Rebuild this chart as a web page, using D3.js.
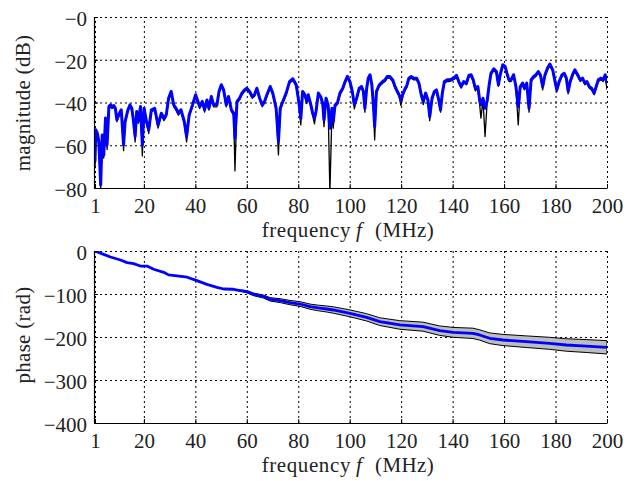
<!DOCTYPE html>
<html>
<head>
<meta charset="utf-8">
<script src="https://cdn.jsdelivr.net/npm/d3@7"></script>
<style>
  body { margin: 0; background: #fff; }
  svg text { font-family: 'Liberation Serif', 'Times New Roman', serif; font-size: 21px; fill: #222; }
</style>
</head>
<body>
<div class="chart"></div>
<script>
// frequency axis (MHz)
const xTicks = [1, 20, 40, 60, 80, 100, 120, 140, 160, 180, 200];

// magnitude panel
const magTicks = [0, -20, -40, -60, -80];
const magTickLabels = ['−0', '−20', '−40', '−60', '−80'];

const magFreq = [
  1, 1.3, 1.9, 2.5, 3.2, 3.8, 4.4, 5.1, 5.7, 6.4, 7.0, 7.6, 8.3, 8.9, 9.5, 10.2, 11.2, 12.1, 12.7, 13.8,
  14.6, 15.3, 15.9, 16.6, 17.2, 17.8, 18.7, 19.4, 20.1, 21.0, 21.9, 22.9, 24.2, 25.5, 26.8, 27.8, 28.7, 29.6,
  30.6, 31.6, 32.5, 33.4, 34.4, 35.7, 36.6, 37.6, 38.9, 40.1,
  41.7, 42.7, 43.6, 44.5, 45.3, 46.2, 47.1, 48.4, 49.2, 50.1, 51.0, 52.0, 52.9, 54.0, 54.9, 55.4, 56.2, 57.2,
  58.1, 59.1, 60.0, 61.1, 62.1, 63.0, 63.9, 65.0, 66.0, 66.9, 67.8, 69.1, 70.1, 71.4, 72.3, 73.0, 74.0, 75.3,
  76.6, 77.9, 79.2, 80.2, 81.0,
  81.7, 82.6, 83.3, 83.9, 84.9, 85.6, 86.3, 86.9, 87.8, 88.7, 89.5, 90.0, 90.8, 91.6, 92.3, 93.1, 93.6, 94.3,
  95.2, 96.2, 97.3, 98.2, 99.1, 100.1, 101.0, 101.8, 102.7, 103.7, 104.6, 105.3, 105.9, 106.6, 107.2, 107.9,
  108.6, 109.2, 109.7, 110.4, 111.5, 112.8, 113.7, 114.6, 115.6, 116.7, 117.6, 118.5, 119.2, 119.9, 120.8, 121.6,
  122.1, 123.0, 123.9, 124.9, 126.0, 126.9, 127.8, 128.6, 129.5, 130.4, 131.1, 132.0, 132.9, 133.7, 134.6, 135.3,
  136.0, 136.8, 137.9, 138.8, 139.8, 140.7, 141.5, 142.4, 143.3, 144.3, 145.4, 146.3, 147.2, 148.0, 148.8, 149.8,
  150.5, 151.0, 151.8, 152.6, 153.4, 154.2, 154.9, 156.0, 157.0, 157.8, 158.5, 159.5, 160.4, 161.1, 161.9,
  162.7, 163.7, 164.6, 165.5, 166.3, 167.2, 167.9, 168.8, 169.7, 170.5, 171.5, 172.4, 173.3, 174.1, 175.0, 175.9,
  176.9, 177.8, 178.9, 179.8, 180.5, 181.4, 182.5, 183.4, 184.2, 184.9, 185.7, 186.6, 187.5, 188.6, 189.6, 190.5,
  191.4, 192.2, 193.1, 194.0, 195.0, 195.8, 196.6, 197.6, 198.5, 199.3, 200
];

// model (blue)
const magModel = [
  -67.7, -52.8, -54.4, -58.3, -78.6, -55.2, -64.5, -47.3, -59.8, -41.9, -41.1, -41.9, -41.4, -42.7, -48.1, -45.8, -43.4, -59.8, -48.9, -43.4,
  -41.1, -42.7, -48.1, -55.9, -44.2, -48.9, -41.9, -59.8, -42.7, -48.9, -52.8, -43.4, -42.7, -50.5, -45.0, -47.3, -45.8, -38.0,
  -34.8, -41.1, -42.7, -45.0, -43.4, -48.9, -55.9, -45.8, -41.1, -36.4,
  -41.9, -39.5, -43.4, -38.8, -42.7, -37.2, -41.1, -41.1, -34.8, -31.7, -34.1, -41.1, -37.2, -43.4, -45.0, -56.7, -39.5, -38.0,
  -35.6, -34.1, -33.3, -34.8, -37.2, -36.4, -33.3, -38.0, -41.1, -39.5, -36.4, -32.5, -35.6, -42.7, -58.3, -42.7, -39.5, -35.6,
  -30.2, -28.9, -31.7, -39.5, -47.5,
  -34.8, -36.4, -39.5, -36.4, -41.1, -45.0, -47.3, -44.2, -35.6, -37.2, -40.3, -48.1, -38.0, -41.1, -52.0, -42.7, -48.9, -41.1,
  -40.3, -35.6, -33.3, -30.2, -27.8, -30.2, -34.8, -41.1, -38.0, -33.3, -32.5, -34.8, -42.7, -33.3, -28.6, -27.0,
  -31.7, -41.1, -51.3, -34.8, -31.7, -30.2, -29.4, -27.8, -27.8, -29.4, -32.5, -34.8, -36.4, -38.8, -35.6, -33.3,
  -32.5, -28.6, -27.8, -28.6, -28.6, -30.9, -36.4, -39.5, -35.6, -38.8, -46.6, -38.0, -34.8, -34.1, -38.8, -43.4,
  -35.6, -30.2, -29.4, -29.4, -28.9, -28.3, -27.3, -30.2, -32.5, -30.2, -30.9, -27.3, -27.0, -29.4, -33.3, -32.5,
  -38.8, -41.1, -38.0, -42.7, -39.5, -31.7, -26.3, -24.2, -25.5, -31.7, -27.0, -22.3, -23.1, -26.3, -29.4,
  -29.4, -27.0, -32.5, -41.9, -32.5, -30.9, -33.3, -30.9, -42.7, -29.4, -27.8, -27.0, -25.5, -27.0, -32.5, -27.0,
  -23.9, -22.0, -24.7, -30.2, -34.1, -30.2, -27.0, -26.3, -28.6, -34.8, -30.2, -27.0, -24.7, -27.0, -29.4, -28.6,
  -30.9, -30.2, -32.5, -33.3, -35.6, -32.5, -29.4, -28.6, -29.4, -27.0, -31.0
];

// measurement (black)
const magMeas = [
  -70.8, -55.0, -56.0, -60.0, -80.0, -57.0, -66.0, -48.5, -62.0, -43.0, -42.0, -42.8, -42.3, -43.6, -49.0, -46.6, -44.3, -62.5, -49.8, -44.2,
  -42.0, -43.6, -49.0, -58.5, -45.0, -49.8, -42.8, -65.0, -43.6, -49.8, -54.5, -44.3, -43.6, -52.0, -45.9, -48.5, -46.6, -38.8,
  -35.6, -42.0, -43.6, -45.9, -44.3, -49.8, -58.5, -46.6, -42.0, -37.2,
  -42.8, -40.3, -44.5, -39.6, -43.6, -38.0, -42.0, -42.0, -35.6, -32.5, -35.0, -42.0, -38.0, -44.3, -46.0, -72.0, -40.3, -38.8,
  -36.4, -34.9, -34.1, -35.6, -38.0, -37.2, -34.1, -38.8, -42.0, -40.3, -37.2, -33.3, -36.4, -43.6, -64.5, -43.6, -40.3, -36.4,
  -31.0, -29.7, -32.5, -41.0, -50.5,
  -35.6, -37.2, -40.5, -37.2, -42.0, -46.0, -50.0, -45.0, -36.4, -38.0, -41.5, -51.3, -38.8, -42.0, -82.0, -44.0, -52.0, -42.0,
  -41.0, -36.4, -34.1, -31.0, -28.6, -31.0, -35.6, -43.0, -38.8, -34.1, -33.3, -35.6, -44.5, -34.1, -29.4, -27.8,
  -32.5, -42.0, -57.5, -35.6, -32.5, -31.0, -30.2, -28.6, -28.6, -30.2, -33.3, -35.6, -37.2, -41.5, -36.4, -34.1,
  -33.3, -29.4, -28.6, -29.4, -29.4, -31.7, -37.2, -41.0, -36.4, -39.6, -48.5, -38.8, -35.6, -34.9, -39.6, -44.5,
  -36.4, -31.0, -30.2, -30.2, -29.7, -29.1, -28.1, -31.0, -33.3, -31.0, -31.7, -28.1, -27.8, -30.2, -34.5, -33.3,
  -41.0, -47.3, -38.8, -55.9, -40.3, -32.5, -27.1, -25.0, -26.3, -32.5, -27.8, -23.1, -23.9, -27.1, -30.2,
  -30.2, -27.8, -33.3, -50.5, -33.3, -31.7, -34.1, -31.7, -44.5, -30.2, -28.6, -27.8, -26.3, -27.8, -34.1, -27.8,
  -24.7, -22.8, -25.5, -31.0, -35.0, -31.0, -27.8, -27.1, -29.4, -36.0, -31.0, -27.8, -25.5, -27.8, -30.2, -29.4,
  -31.7, -31.0, -33.3, -34.1, -36.4, -33.3, -30.2, -29.4, -30.2, -27.8, -34.0
];

// phase panel
const phaseTicks = [0, -100, -200, -300, -400];
const phaseTickLabels = ['0', '−100', '−200', '−300', '−400'];

const phaseFreq = [
  1, 3.1, 7, 10.9, 13.5, 16, 18.6, 21.2, 23.8, 27.7, 29.6, 32.9, 36.8, 40.6, 44.5, 48.4, 51,
  54.8, 57.4, 60, 62.6, 66.5, 69.1, 73, 76.8, 80.7, 84.6, 87.8, 91.1, 93.6, 100.1, 106.6, 111.7,
  119.5, 128.5, 135, 140.2, 147.9, 150.5, 154.4, 159.6, 168.6, 177.7, 184.2, 191.9, 200
];
const phaseModel = [
  0, -5, -14, -21, -27, -29.5, -35, -35, -42.5, -49.5, -55.5, -58, -61, -69, -77.5, -84.5, -88.4,
  -89, -92, -94.5, -100.8, -106, -112.4, -115.5, -120, -123.3, -129.5, -132.5, -134.9, -137.2, -145, -154.3, -164.3,
  -172, -176, -185.3, -189.2, -191.5, -195.3, -203, -207, -210.9, -214.7, -218.6, -221, -224
];

// uncertainty band
const bandFreq = [
  54.8, 57.4, 60, 62.6, 66.5, 69.1, 73, 76.8, 80.7, 84.6, 87.8, 91.1, 93.6, 100.1, 106.6, 111.7,
  119.5, 128.5, 135, 140.2, 147.9, 150.5, 154.4, 159.6, 168.6, 177.7, 184.2, 191.9, 200
];
const bandUpper = [
  -89, -90.5, -92, -97.8, -102.5, -108.4, -111, -115, -117.8, -123.5, -126, -127.9, -129.7, -137, -145.8, -155.3,
  -162, -165.5, -174.3, -177.7, -179.5, -183.3, -190.5, -194, -197.4, -200.7, -204.1, -206, -208.5
];
const bandLower = [
  -89, -93.5, -97, -103.8, -109.5, -116.4, -120, -125, -128.8, -135.5, -139, -141.9, -144.7, -153, -162.8, -173.3,
  -182, -186.5, -196.3, -200.7, -203.5, -207.3, -215.5, -220, -224.4, -228.7, -233.1, -236, -239.5
];

const svg_width = 628;
const svg_height = 481;

const svg = d3.select('.chart').append('svg')
  .attr('width', svg_width).attr('height', svg_height);

const xScale = d3.scaleLinear().domain([1, 200]).range([95, 607]);

function setupPanel(id, yScale, yTicks, yLabels, yTitle, titleY) {
  const [bottom, top] = yScale.range();
  const g = svg.append('g').attr('class', id);

  g.append('clipPath').attr('id', 'clip-' + id)
    .append('rect')
    .attr('x', xScale.range()[0]).attr('y', top)
    .attr('width', xScale.range()[1] - xScale.range()[0]).attr('height', bottom - top);

  // dotted grid
  const gridX = g.append('g').attr('transform', `translate(0,${bottom})`)
    .call(d3.axisBottom(xScale).tickValues(xTicks).tickSize(-(bottom - top)).tickFormat(''));
  const gridY = g.append('g').attr('transform', `translate(${xScale.range()[0]},0)`)
    .call(d3.axisLeft(yScale).tickValues(yTicks).tickSize(-(xScale.range()[1] - xScale.range()[0])).tickFormat(''));
  [gridX, gridY].forEach(a => {
    a.select('.domain').remove();
    a.selectAll('line').attr('stroke', '#000').attr('stroke-width', 1).attr('stroke-dasharray', '2,3');
  });

  const plot = g.append('g').attr('clip-path', `url(#clip-${id})`);

  // solid axes with inner ticks
  const xAxis = g.append('g').attr('transform', `translate(0,${bottom})`)
    .call(d3.axisBottom(xScale).tickValues(xTicks).tickSizeInner(-4).tickSizeOuter(0).tickPadding(10));
  const yAxis = g.append('g').attr('transform', `translate(${xScale.range()[0] - 1},0)`)
    .call(d3.axisLeft(yScale).tickValues(yTicks).tickSizeInner(-4).tickSizeOuter(0).tickPadding(7)
      .tickFormat((d, i) => yLabels[i]));
  [xAxis, yAxis].forEach(a => {
    a.attr('font-family', null).attr('font-size', null);
    a.select('.domain').attr('stroke', '#000').attr('stroke-width', 1.2);
    a.selectAll('line').attr('stroke', '#000');
  });
  yAxis.selectAll('text').attr('dy', '0.4em');

  // x title: word, italic symbol and unit set apart like math spacing
  const ty = bottom + 48.5;
  g.append('text').attr('x', 351).attr('y', ty).attr('text-anchor', 'end')
    .style('letter-spacing', '0.6px').text('frequency');
  g.append('text').attr('x', 356).attr('y', ty)
    .style('font-style', 'italic').text('f');
  g.append('text').attr('x', 375).attr('y', ty)
    .style('letter-spacing', '0.4px').text('(MHz)');

  // y title
  g.append('text')
    .attr('transform', `translate(30,${titleY}) rotate(-90)`)
    .attr('text-anchor', 'middle')
    .style('letter-spacing', '0.3px')
    .text(yTitle);

  return plot;
}

// magnitude
const yMag = d3.scaleLinear().domain([-80, 0]).range([188, 17]);
const magPlot = setupPanel('mag', yMag, magTicks, magTickLabels, 'magnitude (dB)', 103);

magPlot.append('path')
  .datum(magFreq.map((f, i) => ({f, v: magMeas[i]})))
  .attr('fill', 'none').attr('stroke', '#000').attr('stroke-width', 1.3)
  .attr('stroke-linejoin', 'round')
  .attr('d', d3.line().x(d => xScale(d.f)).y(d => yMag(d.v)));

magPlot.append('path')
  .datum(magFreq.map((f, i) => ({f, v: magModel[i]})))
  .attr('fill', 'none').attr('stroke', '#0000ff').attr('stroke-width', 3)
  .attr('stroke-linejoin', 'round')
  .attr('d', d3.line().x(d => xScale(d.f)).y(d => yMag(d.v)));

// phase
const yPhase = d3.scaleLinear().domain([-400, 0]).range([423, 251]);
const phasePlot = setupPanel('phase', yPhase, phaseTicks, phaseTickLabels, 'phase (rad)', 335);

phasePlot.append('path')
  .datum(bandFreq.map((f, i) => ({f, lo: bandLower[i], hi: bandUpper[i]})))
  .attr('fill', '#bdbdbd').attr('stroke', '#000').attr('stroke-width', 1)
  .attr('d', d3.area().x(d => xScale(d.f)).y0(d => yPhase(d.lo)).y1(d => yPhase(d.hi)));

phasePlot.append('path')
  .datum(phaseFreq.map((f, i) => ({f, v: phaseModel[i]})))
  .attr('fill', 'none').attr('stroke', '#0000ff').attr('stroke-width', 2.8)
  .attr('stroke-linejoin', 'round')
  .attr('d', d3.line().x(d => xScale(d.f)).y(d => yPhase(d.v)));
</script>
</body>
</html>
